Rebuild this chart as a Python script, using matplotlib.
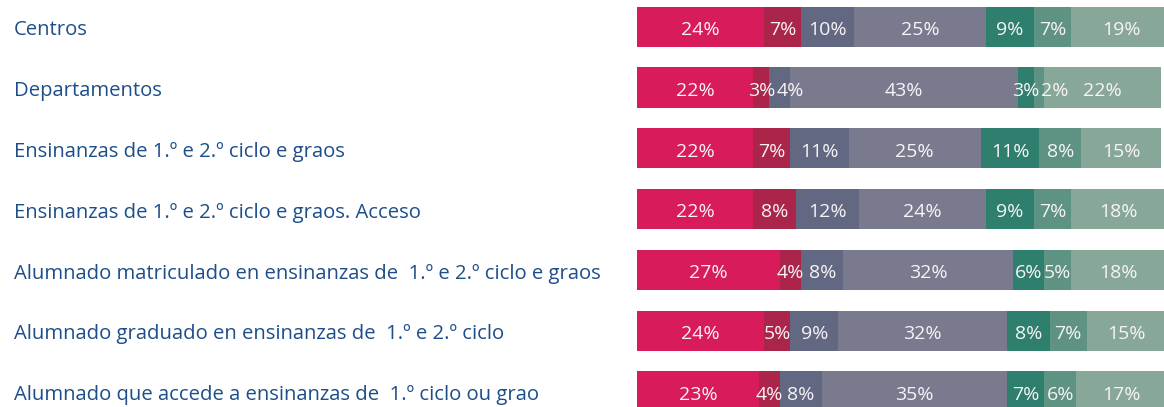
import matplotlib.pyplot as plt
import matplotlib.transforms as mtransforms

plt.rcParams['font.family'] = ['Open Sans', 'DejaVu Sans']

categorias = [
    "Centros",
    "Departamentos",
    "Ensinanzas de 1.º e 2.º ciclo e graos",
    "Ensinanzas de 1.º e 2.º ciclo e graos. Acceso",
    "Alumnado matriculado en ensinanzas de  1.º e 2.º ciclo e graos",
    "Alumnado graduado en ensinanzas de  1.º e 2.º ciclo",
    "Alumnado que accede a ensinanzas de  1.º ciclo ou grao",
]

# one list per segment (left to right), one value per row
seg1 = [24, 22, 22, 22, 27, 24, 23]
seg2 = [7, 3, 7, 8, 4, 5, 4]
seg3 = [10, 4, 11, 12, 8, 9, 8]
seg4 = [25, 43, 25, 24, 32, 32, 35]
seg5 = [9, 3, 11, 9, 6, 8, 7]
seg6 = [7, 2, 8, 7, 5, 7, 6]
seg7 = [19, 22, 15, 18, 18, 15, 17]

segmentos = [seg1, seg2, seg3, seg4, seg5, seg6, seg7]
cores = ["#D81B5A", "#AA2549", "#636882", "#797A8E", "#2F7F6E", "#5E9282", "#87A898"]

fig = plt.figure(figsize=(11.64, 4.07), dpi=100)
ax = fig.add_axes([637 / 1164, 0, 1 - 637 / 1164, 1])
ax.set_xlim(0, 99.6)
ax.set_ylim(6.255, -0.439)
ax.axis("off")

filas = list(range(len(categorias)))
esquerda = [0] * len(categorias)
etiquetas = [[] for _ in filas]
for valores, cor in zip(segmentos, cores):
    ax.barh(filas, valores, left=esquerda, height=0.66, color=cor, linewidth=0)
    for i, v in enumerate(valores):
        t = ax.text(esquerda[i] + v / 2, i + 0.02, f"{v}%", ha="center",
                    va="center_baseline", color="#F7F3F6", fontsize=14)
        etiquetas[i].append(t)
    esquerda = [e + v for e, v in zip(esquerda, valores)]

# push overlapping percentage labels to the right
fig.canvas.draw()
renderer = fig.canvas.get_renderer()
inv = ax.transData.inverted()
for fila in etiquetas:
    borde = None
    for t in fila:
        bb = t.get_window_extent(renderer)
        x0 = inv.transform((bb.x0, 0))[0]
        x1 = inv.transform((bb.x1, 0))[0]
        if borde is not None and x0 < borde + 0.3:
            desp = borde + 0.3 - x0
            t.set_x(t.get_position()[0] + desp)
            x1 += desp
        borde = x1

trans = mtransforms.blended_transform_factory(fig.transFigure, ax.transData)
for i, nome in enumerate(categorias):
    ax.text(14 / 1164, i + 0.02, nome, transform=trans, ha="left",
            va="center_baseline", color="#1D4E8A", fontsize=14.6)

fig.savefig("out.png", dpi=100)
